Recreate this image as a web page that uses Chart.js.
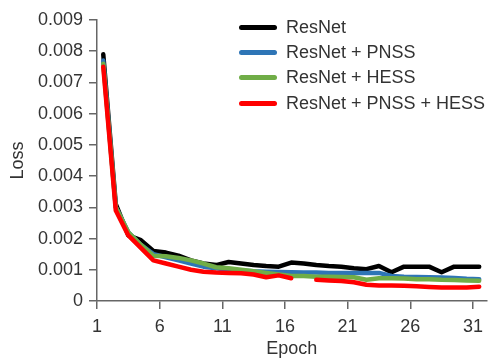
<!DOCTYPE html>
<html>
<head>
<meta charset="utf-8">
<script src="https://cdn.jsdelivr.net/npm/chart.js@4/dist/chart.umd.min.js"></script>
<style>
    html, body { margin: 0; padding: 0; background: #fff; }
    #wrap { position: relative; width: 490px; height: 358px; }
    #legend {
        position: absolute; left: 239px; top: 15px; margin: 0; padding: 0;
        list-style: none; font-family: 'Liberation Sans', Arial, sans-serif;
        font-size: 18px; color: #333;
    }
    #legend li { display: flex; align-items: center; height: 25.2px; }
    #legend .swatch { width: 38px; height: 5px; border-radius: 3px; margin-right: 9px; }
</style>
</head>
<body>
<div id="wrap">
    <canvas id="lossChart" width="490" height="358"></canvas>
    <ul id="legend"></ul>
</div>
<script>
// Epochs and loss values
const epochs = [1, 2, 3, 4, 5, 6, 7, 8, 9, 10, 11, 12, 13, 14, 15, 16,
    17, 18, 19, 20, 21, 22, 23, 24, 25, 26, 27, 28, 29, 30, 31];
const xTickLabels = [1, 6, 11, 16, 21, 26, 31];

const resnet = [0.0079, 0.0031, 0.0021, 0.00195, 0.0016, 0.00155, 0.00145, 0.0013, 0.0012, 0.00115,
    0.00125, 0.0012, 0.00115, 0.00112, 0.0011, 0.00123, 0.0012, 0.00115, 0.00112, 0.0011,
    0.00105, 0.00102, 0.00112, 0.00092, 0.0011, 0.0011, 0.0011, 0.00092, 0.0011, 0.0011, 0.0011];
const resnetPnss = [0.0077, 0.003, 0.0022, 0.0018, 0.0015, 0.0014, 0.0013, 0.0012, 0.0011, 0.00105,
    0.001, 0.00098, 0.00095, 0.00094, 0.00093, 0.00092, 0.00091, 0.00091, 0.0009, 0.0009,
    0.0009, 0.0009, 0.0009, 0.0008, 0.00078, 0.00077, 0.00076, 0.00075, 0.00074, 0.00071, 0.0007];
const resnetHess = [0.0076, 0.003, 0.0022, 0.0018, 0.00145, 0.00143, 0.00138, 0.0013, 0.0012, 0.00108,
    0.00105, 0.001, 0.00095, 0.0009, 0.00085, 0.0008, 0.0008, 0.00078, 0.00078, 0.00077,
    0.00076, 0.00068, 0.00073, 0.00073, 0.00072, 0.0007, 0.0007, 0.00068, 0.00067, 0.00066, 0.00065];
const resnetPnssHess = [0.0075, 0.0029, 0.0021, 0.0017, 0.0013, 0.0012, 0.0011, 0.001, 0.00094, 0.00091,
    0.0009, 0.00089, 0.00085, 0.00076, 0.00082, 0.00073, null, 0.00068, 0.00066, 0.00064,
    0.0006, 0.00052, 0.0005, 0.0005, 0.00049, 0.00047, 0.00045, 0.00043, 0.00043, 0.00043, 0.00046];

const yTicks = [0, 0.001, 0.002, 0.003, 0.004, 0.005, 0.006, 0.007, 0.008, 0.009];

const textColor = '#333';
const axisColor = '#666';
const fontFamily = "'Liberation Sans', Arial, sans-serif";

function toPoints(values) {
    return epochs.map((e, i) => ({ x: e, y: values[i] }));
}

function makeSet(label, values, color, order) {
    return {
        label: label,
        data: toPoints(values),
        borderColor: color,
        backgroundColor: color,
        borderWidth: 4.5,
        pointRadius: 0,
        borderJoinStyle: 'round',
        borderCapStyle: 'round',
        tension: 0,
        spanGaps: false,
        order: order
    };
}

const ctx = document.getElementById('lossChart').getContext('2d');
const lossChart = new Chart(ctx, {
    type: 'line',
    data: {
        datasets: [
            makeSet('ResNet', resnet, '#000000', 4),
            makeSet('ResNet + PNSS', resnetPnss, '#2e75b6', 3),
            makeSet('ResNet + HESS', resnetHess, '#70ad47', 2),
            makeSet('ResNet + PNSS + HESS', resnetPnssHess, '#ff0000', 1)
        ]
    },
    options: {
        responsive: false,
        animation: false,
        layout: { padding: { top: 20, right: 2, left: 0, bottom: 0 } },
        plugins: {
            legend: { display: false },
            tooltip: { enabled: false }
        },
        scales: {
            x: {
                type: 'linear',
                min: 0.5,
                max: 31.6,
                // epoch ticks sit half a step to the left of the points
                afterBuildTicks: (scale) => {
                    scale.ticks = xTickLabels.map(v => ({ value: v - 0.5 }));
                },
                afterFit: (scale) => { scale.height = 57; },
                ticks: {
                    color: textColor,
                    font: { family: fontFamily, size: 18 },
                    padding: 7,
                    maxRotation: 0,
                    callback: (v) => String(Math.round(v + 0.5))
                },
                grid: { drawOnChartArea: false, drawTicks: true, tickLength: 8, color: axisColor, lineWidth: 1.5 },
                border: { color: axisColor, width: 1.5 },
                title: {
                    display: true,
                    text: 'Epoch',
                    color: textColor,
                    font: { family: fontFamily, size: 18, lineHeight: 1 },
                    padding: { top: 0, bottom: 0 }
                }
            },
            y: {
                min: 0,
                max: 0.009,
                afterBuildTicks: (scale) => {
                    scale.ticks = yTicks.map(v => ({ value: v }));
                },
                afterFit: (scale) => { scale.width = 97; },
                ticks: {
                    color: textColor,
                    font: { family: fontFamily, size: 18 },
                    padding: 6,
                    callback: (v) => v === 0 ? '0' : v.toFixed(3)
                },
                grid: { drawOnChartArea: false, drawTicks: true, tickLength: 8, color: axisColor, lineWidth: 1.5 },
                border: { color: axisColor, width: 1.5 },
                title: {
                    display: true,
                    text: 'Loss',
                    color: textColor,
                    font: { family: fontFamily, size: 18 },
                    padding: { top: 7, bottom: 0 }
                }
            }
        }
    }
});

// HTML legend built from the chart's datasets
const legendEl = document.getElementById('legend');
lossChart.data.datasets.forEach(ds => {
    const li = document.createElement('li');
    const sw = document.createElement('span');
    sw.className = 'swatch';
    sw.style.background = ds.borderColor;
    li.appendChild(sw);
    li.appendChild(document.createTextNode(ds.label));
    legendEl.appendChild(li);
});
</script>
</body>
</html>
